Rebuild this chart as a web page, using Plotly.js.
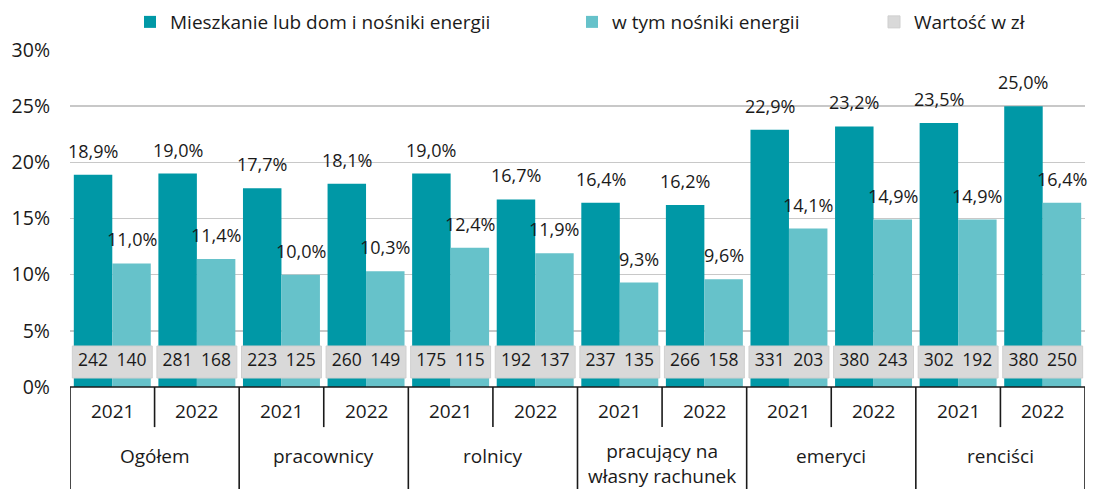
<!DOCTYPE html>
<html>
<head>
<meta charset="utf-8">
<script src="https://cdn.plot.ly/plotly-3.0.1.min.js"></script>
<style>html,body{margin:0;padding:0;background:#fff;}#chart{width:1096px;height:489px;}</style>
</head>
<body>
<div id="chart"></div>
<script>
// ---- data ----
const years = ["2021","2022","2021","2022","2021","2022","2021","2022","2021","2022","2021","2022"];
const groups = ["Ogółem","pracownicy","rolnicy","pracujący na<br>własny rachunek","emeryci","renciści"];
const shareHousing = [18.9, 19.0, 17.7, 18.1, 19.0, 16.7, 16.4, 16.2, 22.9, 23.2, 23.5, 25.0];
const shareEnergy  = [11.0, 11.4, 10.0, 10.3, 12.4, 11.9, 9.3, 9.6, 14.1, 14.9, 14.9, 16.4];
const plnHousing = [242, 281, 223, 260, 175, 192, 237, 266, 331, 380, 302, 380];
const plnEnergy  = [140, 168, 125, 149, 115, 137, 135, 158, 203, 243, 192, 250];
const seriesNames = ["Mieszkanie lub dom i nośniki energii", "w tym nośniki energii", "Wartość w zł"];

// ---- style ----
const FONT = "Open Sans, sans-serif";
const TXT = "#1a1a1a";
const C_DARK = "#0098a6", C_LIGHT = "#66c2ca", C_GREY = "#d9d9d9";
const BARGAP = 0.09;
const half = (1 - BARGAP) / 4;       // offset of each bar centre from group centre
const boxBase = 0.8, boxTop = 3.65;  // grey value box in axis units
const xs = years.map((_, i) => i);

const traces = [
  {type:"bar", name:seriesNames[0], x:xs, y:shareHousing, marker:{color:C_DARK}, hoverinfo:"y", legend:"legend"},
  {type:"bar", name:seriesNames[1], x:xs, y:shareEnergy, marker:{color:C_LIGHT}, hoverinfo:"y", legend:"legend2"},
  {type:"bar", name:seriesNames[2], x:xs, y:xs.map(() => boxTop - boxBase), base:boxBase, width:0.945,
   xaxis:"x2", marker:{color:C_GREY, line:{color:"#cfcfcf", width:1}}, hoverinfo:"skip", legend:"legend3"},
  {type:"scatter", mode:"text", showlegend:false, xaxis:"x2", hoverinfo:"skip",
   x:xs.map(i => i - half).concat(xs.map(i => i + half)),
   y:xs.concat(xs).map(() => (boxBase + boxTop) / 2),
   text:plnHousing.concat(plnEnergy).map(String),
   textposition:"middle center", textfont:{family:FONT, size:17.5, color:TXT}, cliponaxis:false}
];

const pct = v => v.toFixed(1).replace(".", ",") + "%";
const annotations = [];
shareHousing.forEach((v, i) => annotations.push({x:i - half, y:v, xref:"x", yref:"y", text:pct(v),
  showarrow:false, yanchor:"bottom", yshift:10, font:{family:FONT, size:18, color:TXT}}));
shareEnergy.forEach((v, i) => annotations.push({x:i + half, y:v, xref:"x", yref:"y", text:pct(v),
  showarrow:false, yanchor:"bottom", yshift:10, font:{family:FONT, size:18, color:TXT}}));
years.forEach((y, i) => annotations.push({x:i, y:-0.071, xref:"x", yref:"paper", text:y, showarrow:false,
  yanchor:"middle", font:{family:FONT, size:19, color:TXT}}));
groups.forEach((g, k) => {
  const lines = g.split("<br>").length;
  annotations.push({x:2 * k + 0.5, y:-0.205 - (lines - 1) * 0.022, xref:"x", yref:"paper", text:g, showarrow:false,
    yanchor:"middle", font:{family:FONT, size:19, color:TXT}});
});

const LINE = {color:TXT, width:1.6};
const shapes = [{type:"line", xref:"paper", yref:"paper", x0:0, x1:1, y0:0, y1:0, line:LINE}];
for (let k = 0; k <= groups.length; k++) {
  shapes.push({type:"line", xref:"x", yref:"paper", x0:2 * k - 0.5, x1:2 * k - 0.5, y0:0, y1:-0.32, line:LINE});
}
for (let k = 0; k < groups.length; k++) {
  shapes.push({type:"line", xref:"x", yref:"paper", x0:2 * k + 0.5, x1:2 * k + 0.5, y0:0, y1:-0.119, line:LINE});
}

const legendBase = {orientation:"h", yanchor:"middle", y:1.083, xanchor:"left", bgcolor:"rgba(0,0,0,0)",
  font:{family:FONT, size:19, color:TXT}, itemclick:false, itemdoubleclick:false};

const layout = {
  width:1096, height:489,
  margin:{l:70, r:11, t:50, b:102, autoexpand:false},
  paper_bgcolor:"#fff", plot_bgcolor:"#fff",
  font:{family:FONT, size:17, color:TXT},
  barmode:"group", bargap:BARGAP, bargroupgap:0,
  xaxis:{range:[-0.5, 11.5], showticklabels:false, showgrid:false, zeroline:false, ticks:"", fixedrange:true},
  xaxis2:{range:[-0.5, 11.5], overlaying:"x", visible:false, fixedrange:true},
  yaxis:{range:[0, 30], dtick:5, ticksuffix:"%", showgrid:true, gridcolor:"#c8c8c8", gridwidth:1.5,
    zeroline:false, ticks:"", ticklabelstandoff:19, tickfont:{family:FONT, size:19.5, color:TXT}, fixedrange:true},
  showlegend:true,
  legend:Object.assign({}, legendBase, {x:(130 - 70) / 1015}),
  legend2:Object.assign({}, legendBase, {x:(572 - 70) / 1015}),
  legend3:Object.assign({}, legendBase, {x:(874 - 70) / 1015}),
  annotations:annotations,
  shapes:shapes
};

Plotly.newPlot("chart", traces, layout, {displayModeBar:false, staticPlot:true});
</script>
</body>
</html>
